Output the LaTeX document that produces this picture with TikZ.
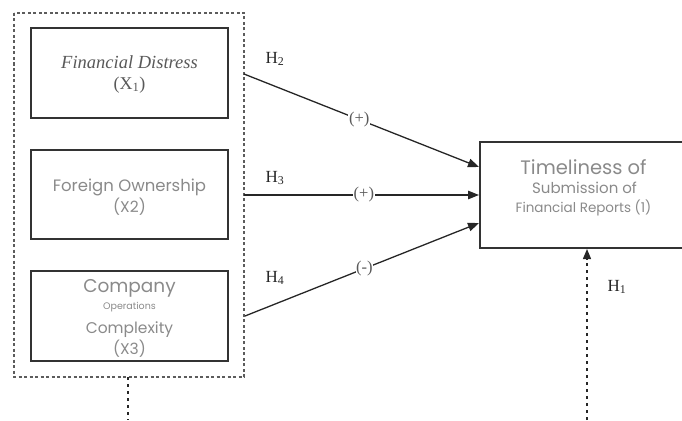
\documentclass[tikz,border=0pt]{standalone}
\usepackage{fontspec}
\setmainfont{Liberation Serif}
\newfontfamily\pop{Poppins}
\usetikzlibrary{arrows.meta}
\definecolor{boxtext}{HTML}{8A8A8A}
\definecolor{edge}{HTML}{333333}
\tikzset{
  varbox/.style={draw=edge, line width=1.4pt, rectangle},
  grouping/.style={draw=edge!80, line width=1.3pt, dash pattern=on 3pt off 2.5pt},
  link/.style={draw=black!85, line width=1.3pt, -{Triangle[length=11pt,width=8.5pt]}},
  sign/.style={fill=white, inner sep=0.6pt, text=black!65, font=\fontsize{16.5}{16.5}\selectfont},
  hyp/.style={text=black!85, font=\fontsize{17}{17}\selectfont},
  lbl/.style={text=boxtext, inner sep=0pt},
  effect/.style={draw=black!85, line width=1.3pt, dash pattern=on 3pt off 4pt},
}
\begin{document}
\begin{tikzpicture}[x=1pt, y=-1pt]
\useasboundingbox (0,0) rectangle (682,420);
\begin{scope}
\clip (0,0) rectangle (682,420);

% group of independent variables
\draw[grouping] (14,13) rectangle (244,377);

% independent variable boxes
\draw[varbox] (31,28) rectangle (228,118);
\node[lbl, text=black!65, font=\fontsize{18.5}{18.5}\selectfont\itshape] (fd) at (129.5,62) {Financial Distress};
\node[lbl, text=black!65, font=\fontsize{18}{18}\selectfont] (x1) at (129.5,85) {(X\textsubscript{1})};

\draw[varbox] (31,150) rectangle (228,239);
\node[lbl, font=\pop\fontsize{16.5}{16.5}\selectfont] (fo) at (129.5,187) {Foreign Ownership};
\node[lbl, font=\pop\fontsize{15.5}{15.5}\selectfont] (x2) at (129.5,207) {(X2)};

\draw[varbox] (31,271) rectangle (228,361);
\node[lbl, font=\pop\fontsize{18.5}{18.5}\selectfont] (co) at (129.5,288) {Company};
\node[lbl, font=\pop\fontsize{9.5}{9.5}\selectfont] (op) at (129.5,307) {Operations};
\node[lbl, font=\pop\fontsize{15.5}{15.5}\selectfont] (cx) at (129.5,330) {Complexity};
\node[lbl, font=\pop\fontsize{15.5}{15.5}\selectfont] (x3) at (129.5,349) {(X3)};

% dependent variable box
\draw[varbox] (480,142) rectangle (700,248);
\node[lbl, font=\pop\fontsize{19.5}{19.5}\selectfont] (tl) at (583.5,167) {Timeliness of};
\node[lbl, font=\pop\fontsize{15}{15}\selectfont] (sb) at (584.5,188) {Submission of};
\node[lbl, font=\pop\fontsize{13.5}{13.5}\selectfont] (fr) at (583.5,208) {Financial Reports (1)};

% connector end points
\coordinate (s2) at (244,74);
\coordinate (s3) at (244,195);
\coordinate (s4) at (245,316);
\coordinate (e2) at (479,167);
\coordinate (e3) at (479,195);
\coordinate (e4) at (479,223);
\coordinate (gb) at (128,377);
\coordinate (gl) at (128,420);
\coordinate (yb) at (587,420);
\coordinate (yt) at (587,249);

% hypothesised paths
\draw[link] (s2) -- node[sign, pos=0.49] (p2) {(+)} (e2);
\draw[link] (s3) -- node[sign, pos=0.51] (p3) {(+)} (e3);
\draw[link] (s4) -- node[sign, pos=0.51] (p4) {(-)} (e4);

% joint effect
\draw[effect] (gb) -- (gl);
\draw[effect, -{Triangle[length=10pt,width=8pt]}] (yb) -- (yt);

% hypothesis labels
\node[hyp] (h2) at (275,59) {H\textsubscript{2}};
\node[hyp] (h3) at (275,178) {H\textsubscript{3}};
\node[hyp] (h4) at (275,278) {H\textsubscript{4}};
\node[hyp] (h1) at (617,287) {H\textsubscript{1}};
\end{scope}
\end{tikzpicture}
\end{document}
